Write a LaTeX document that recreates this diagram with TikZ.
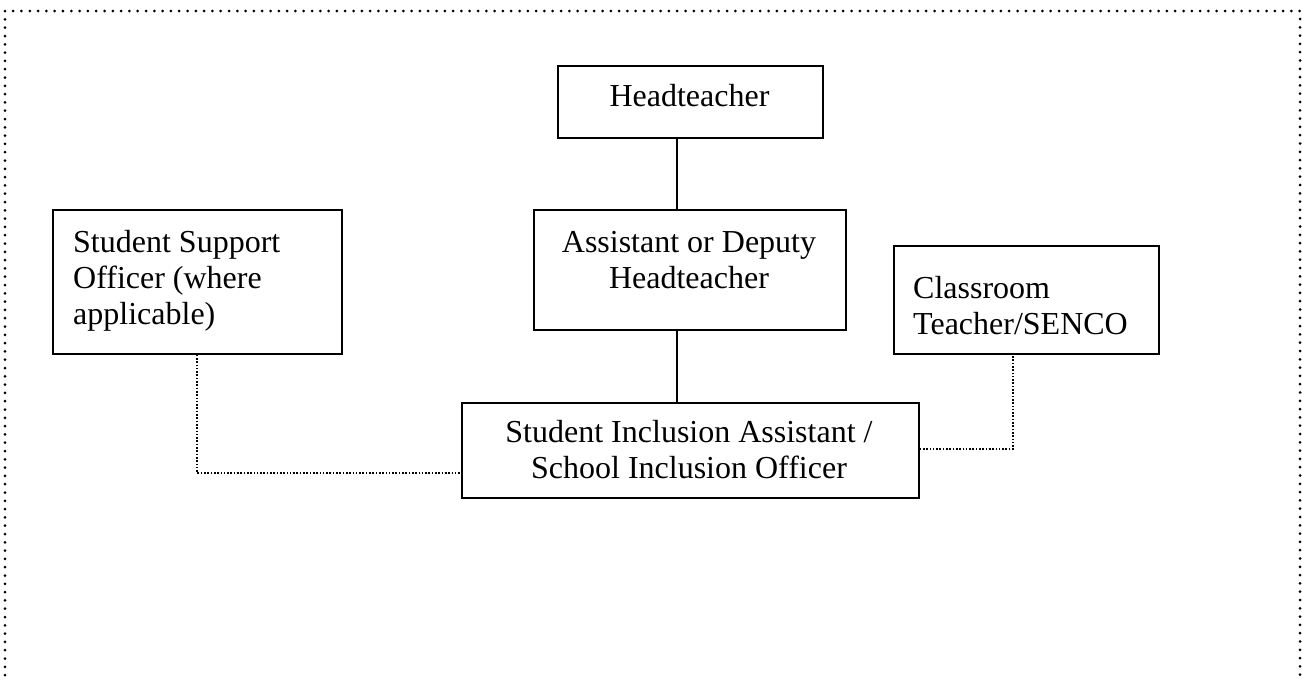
\documentclass[tikz,border=0pt]{standalone}
\usepackage{fontspec}
\setmainfont{Liberation Serif}
\newcommand\txtblock[2]{\begin{tabular}[t]{@{}#1@{}}#2\end{tabular}}
\begin{document}
\begin{tikzpicture}[x=1pt,y=-1pt,
  box/.style={draw,line width=1.6pt,inner sep=0pt,anchor=north west},
  lbl/.style={inner sep=0pt,font=\fontsize{32}{36}\selectfont},
  solidlink/.style={line width=1.6pt},
  dotlink/.style={line width=1.6pt,dash pattern=on 1.6pt off 1.7pt},
  frame/.style={line width=3pt,dash pattern=on 0pt off 8.3pt,line cap=round}]
\useasboundingbox (0,0) rectangle (1302,680);
% outer dotted frame (bottom is off the picture)
\draw[frame] (5,700) -- (5,11) -- (1300,11) -- (1300,700);
% boxes
\node[box,minimum width=265pt,minimum height=72pt] (head) at (557,65) {};
\node[box,minimum width=312pt,minimum height=120pt] (dep) at (533,209) {};
\node[box,minimum width=289pt,minimum height=144pt] (sso) at (52,209) {};
\node[box,minimum width=265pt,minimum height=108pt] (crt) at (893,245) {};
\node[box,minimum width=457pt,minimum height=95pt] (sia) at (461,402) {};
% texts
\node[lbl,anchor=base] (headt) at (689.5,106) {\txtblock{c}{Headteacher}};
\node[lbl,anchor=base] (dept) at (689,252) {\txtblock{c}{Assistant or Deputy\\Headteacher}};
\node[lbl,anchor=base west] (ssot) at (73,252) {\txtblock{l}{Student Support\\Officer (where\\applicable)}};
\node[lbl,anchor=base west] (crtt) at (913,298) {\txtblock{l}{Classroom\\Teacher/SENCO}};
\node[lbl,anchor=base] (siat) at (689,442) {\txtblock{c}{Student Inclusion Assistant /\\School Inclusion Officer}};
% connectors
\coordinate (c1) at (677,0);
\draw[solidlink] (c1 |- head.south) -- (c1 |- dep.north);
\draw[solidlink] (c1 |- dep.south) -- (c1 |- sia.north);
\coordinate (l1) at (197,473);
\coordinate (r1) at (1013,449);
\draw[dotlink] (l1 |- sso.south) -- (l1) -- (l1 -| sia.west);
\draw[dotlink] (r1 -| sia.east) -- (r1) -- (r1 |- crt.south);
\end{tikzpicture}
\end{document}
